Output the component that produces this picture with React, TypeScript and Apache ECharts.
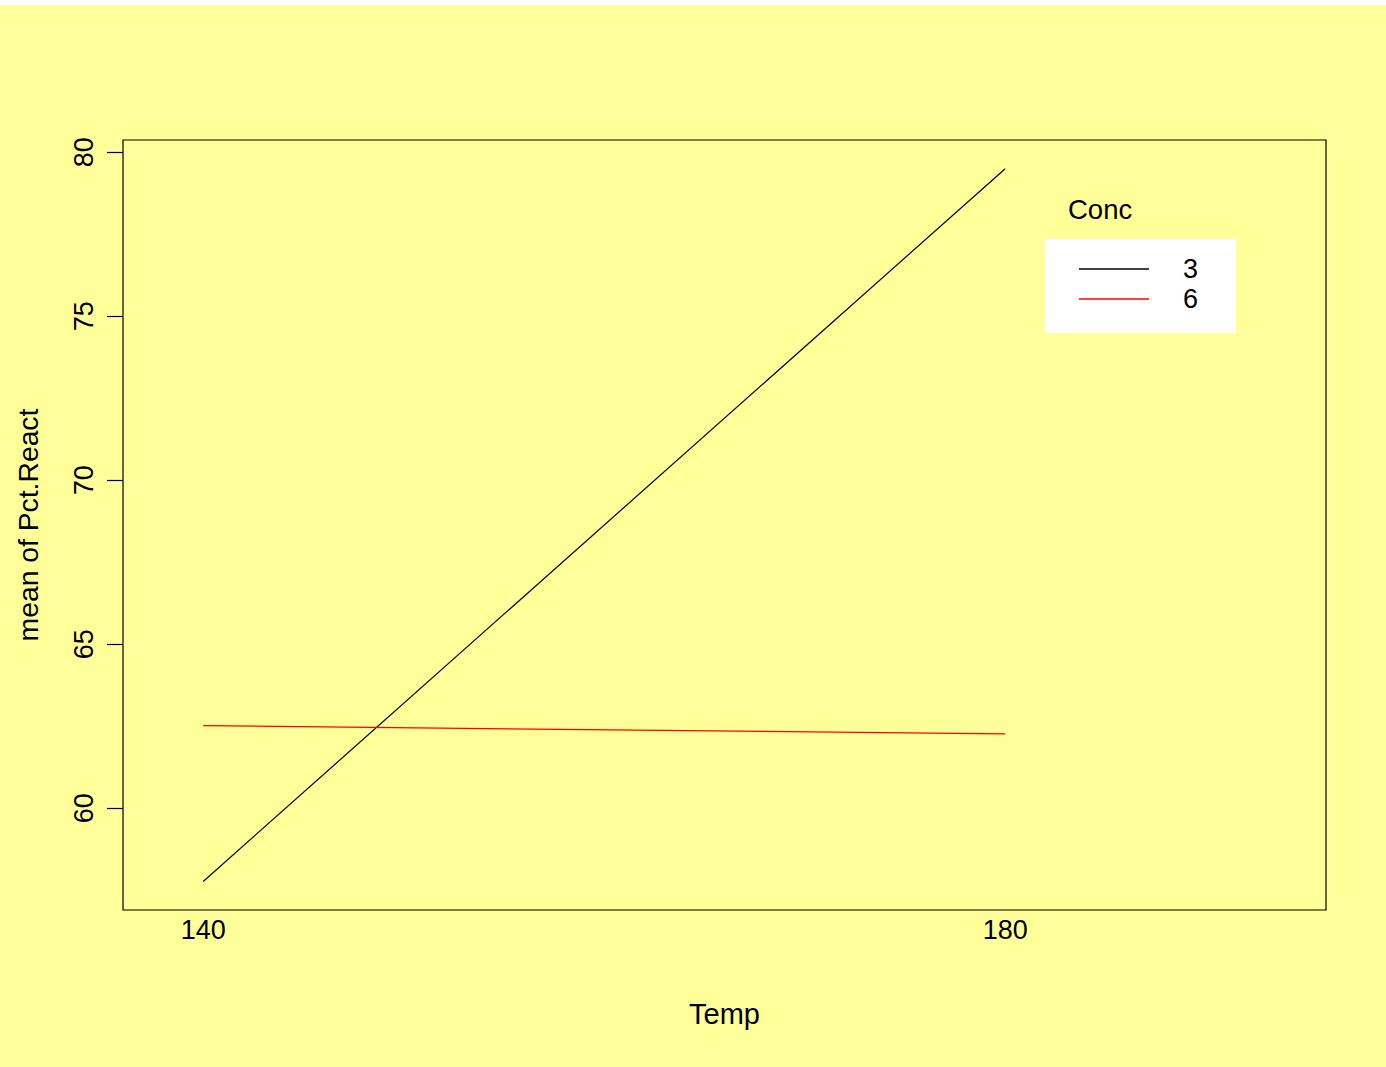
import React, { useEffect, useRef } from "react";
import * as echarts from "echarts";

const tempLabels = ["140", "180"];
const tempPositions = [1, 2];
const concNames = ["3", "6"];
const conc3 = [57.77, 79.5];
const conc6 = [62.52, 62.27];
const yTicks = [60, 65, 70, 75, 80];

const FONT = "Liberation Sans, Arial, Helvetica, sans-serif";

export default function App() {
  const ref = useRef<HTMLDivElement>(null);
  useEffect(() => {
    if (!ref.current) return;
    const chart = echarts.init(ref.current, undefined, { renderer: "svg" });
    const toPairs = (vals: number[]) => vals.map((v, i) => [tempPositions[i], v]);
    chart.setOption({
      animation: false,
      backgroundColor: "#FFFF99",
      textStyle: { fontFamily: FONT, color: "#000" },
      title: {
        text: "Conc",
        left: 1063,
        top: 185,
        textStyle: { fontFamily: FONT, fontSize: 27.5, fontWeight: "normal", color: "#000" },
      },
      legend: {
        orient: "vertical",
        left: 1045,
        top: 234,
        backgroundColor: "#ffffff",
        padding: [15, 38, 19, 34],
        icon: "rect",
        itemWidth: 70,
        itemHeight: 1.5,
        itemGap: 0,
        data: concNames,
        textStyle: {
          fontFamily: FONT,
          fontSize: 27,
          color: "#000",
          padding: [0, 0, 0, 29],
          lineHeight: 30,
        },
      },
      grid: {
        left: 123,
        top: 135,
        width: 1203,
        height: 770,
        show: true,
        borderColor: "#000",
        borderWidth: 1.2,
        backgroundColor: "transparent",
      },
      xAxis: {
        type: "value",
        min: 0.9,
        max: 2.4,
        name: "Temp",
        nameLocation: "middle",
        nameGap: 89,
        nameTextStyle: { fontFamily: FONT, fontSize: 29, color: "#000" },
        axisLine: { show: false },
        axisTick: { show: false },
        splitLine: { show: false },
        axisLabel: {
          customValues: tempPositions,
          formatter: (v: number) => {
            const i = tempPositions.indexOf(v);
            return i >= 0 ? tempLabels[i] : "";
          },
          fontFamily: FONT,
          fontSize: 27,
          color: "#000",
          margin: 6,
        },
      },
      yAxis: {
        type: "value",
        min: 56.9,
        max: 80.375,
        name: "mean of Pct.React",
        nameLocation: "middle",
        nameGap: 81,
        nameRotate: 90,
        nameTextStyle: { fontFamily: FONT, fontSize: 28.3, color: "#000" },
        axisLine: { show: false },
        axisTick: {
          show: true,
          inside: false,
          length: 16,
          customValues: yTicks,
          lineStyle: { color: "#000", width: 1.2 },
        },
        splitLine: { show: false },
        axisLabel: {
          customValues: yTicks,
          rotate: 90,
          fontFamily: FONT,
          fontSize: 27,
          color: "#000",
          margin: 26,
        },
      },
      series: [
        {
          name: concNames[0],
          type: "line",
          data: toPairs(conc3),
          symbol: "none",
          lineStyle: { color: "#000000", width: 1.2 },
          itemStyle: { color: "#000000" },
        },
        {
          name: concNames[1],
          type: "line",
          data: toPairs(conc6),
          symbol: "none",
          lineStyle: { color: "#ff0000", width: 1.2 },
          itemStyle: { color: "#ff0000" },
        },
      ],
    });
    return () => chart.dispose();
  }, []);
  return (
    <div
      ref={ref}
      style={{ position: "fixed", left: 0, top: 5, width: 1386, height: 1062 }}
    />
  );
}
